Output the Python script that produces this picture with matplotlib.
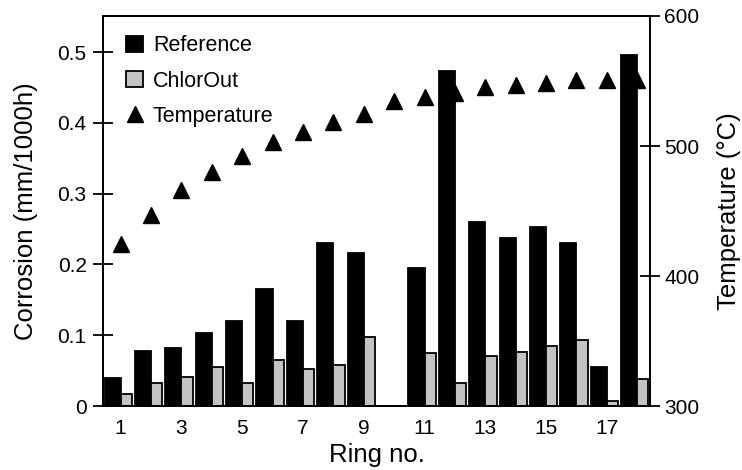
import numpy as np
import matplotlib
matplotlib.use("Agg")
import matplotlib.pyplot as plt
from matplotlib.patches import Patch
from matplotlib.lines import Line2D

plt.rcParams['font.family'] = ['Liberation Sans', 'DejaVu Sans']
plt.rcParams['font.size'] = 15

# ring numbers and measured values
rings = np.arange(1, 19)
reference = [0.039, 0.078, 0.0815, 0.1035, 0.1205, 0.1657, 0.1205, 0.231, 0.2165,
             0.0, 0.1945, 0.473, 0.2595, 0.2368, 0.2533, 0.231, 0.0547, 0.4958]
chlorout = [0.0165, 0.033, 0.041, 0.0547, 0.032, 0.065, 0.0518, 0.058, 0.097,
            0.0, 0.0744, 0.032, 0.071, 0.0767, 0.0847, 0.0932, 0.007, 0.0377]
temperature = [425, 447, 466, 480, 492, 503, 511, 518.5, 525,
               534.4, 538, 541, 545, 547, 548.6, 550.4, 550.4, 550.8]
xticks = [1, 3, 5, 7, 9, 11, 13, 15, 17]

grey = '#c3c3c3'
lw = 1.3
labsize = 18.5

fig = plt.figure(figsize=(7.42, 4.70), dpi=100)
ax = fig.add_axes([0.1388, 0.136, 0.7372, 0.830])
ax2 = ax.twinx()

ax.bar(rings, reference, width=-0.53, align='edge', color='black',
       edgecolor='black', linewidth=lw)
ax.bar(rings, chlorout, width=0.37, align='edge', color=grey,
       edgecolor='black', linewidth=lw)
ax2.plot(rings, temperature, linestyle='none', marker='^', ms=11.5,
         color='black')

ax.set_xlim(0.42, 18.42)
ax.set_ylim(0, 0.551)
ax2.set_ylim(300, 600)

ax.set_xticks(xticks)
ax.set_yticks([0, 0.1, 0.2, 0.3, 0.4, 0.5])
ax.set_yticklabels(['0', '0.1', '0.2', '0.3', '0.4', '0.5'])
ax2.set_yticks([300, 400, 500, 600])

ax.tick_params(axis='x', length=0, pad=9)
ax.tick_params(axis='y', direction='inout', length=14.4, width=lw, pad=4.5)
ax2.tick_params(axis='y', direction='inout', length=14.4, width=lw, pad=3)
for a in (ax, ax2):
    for s in a.spines.values():
        s.set_linewidth(lw)

ax.set_xlabel('Ring no.', fontsize=labsize, labelpad=4)
ax.set_ylabel('Corrosion (mm/1000h)', fontsize=labsize, labelpad=14)
ax2.set_ylabel('Temperature (°C)', fontsize=labsize, labelpad=13)

handles = [Patch(facecolor='black', edgecolor='black', linewidth=lw),
           Patch(facecolor=grey, edgecolor='black', linewidth=lw),
           Line2D([], [], linestyle='none', marker='^', ms=11.5, color='black')]
ax2.legend(handles, ['Reference', 'ChlorOut', 'Temperature'],
           loc='upper left', bbox_to_anchor=(0.042, 0.95), frameon=False,
           fontsize=15.5, handlelength=0.8, handleheight=0.75,
           handletextpad=0.45, labelspacing=0.66, borderaxespad=0,
           borderpad=0)

plt.savefig('out.png')
